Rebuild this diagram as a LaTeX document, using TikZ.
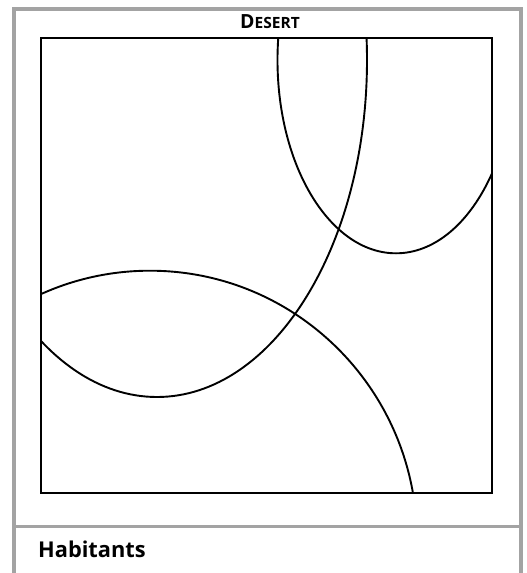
\documentclass[tikz,border=0pt]{standalone}
\usepackage{fontspec}
\setmainfont{Open Sans}
\definecolor{framegray}{HTML}{A3A3A3}
\begin{document}
\begin{tikzpicture}[x=1pt,y=-1pt,
  frame/.style={draw=framegray,line width=4pt},
  sep/.style={draw=framegray,line width=3pt},
  box/.style={draw=black,line width=2pt},
  curve/.style={draw=black,line width=1.9pt}]
\useasboundingbox (0,0) rectangle (527,573);
\fill[white] (0,0) rectangle (527,573);
% outer frame
\draw[frame] (14,9) rectangle (520.5,574.5);
\draw[sep] (14,526) -- (520.5,526);
% title
\node[anchor=base,inner sep=0] (title) at (270,28.5)
  {\bfseries\fontsize{19.5}{19.5}\selectfont D\fontsize{15.5}{15.5}\selectfont ESERT};
% main square with curves
\begin{scope}
  \clip (41,38) rectangle (492,493);
  \draw[curve] (396,60) ellipse [x radius=118.5, y radius=193.3];
  \draw[curve] (157,60) ellipse [x radius=210, y radius=337];
  \draw[curve] (150,540) ellipse [x radius=267, y radius=269.3];
\end{scope}
\draw[box] (41,38) rectangle (492,493);
% bottom label
\node[anchor=base west,inner sep=0] (hab) at (38,557)
  {\bfseries\fontsize{21.8}{21.8}\selectfont Habitants};
\end{tikzpicture}
\end{document}
